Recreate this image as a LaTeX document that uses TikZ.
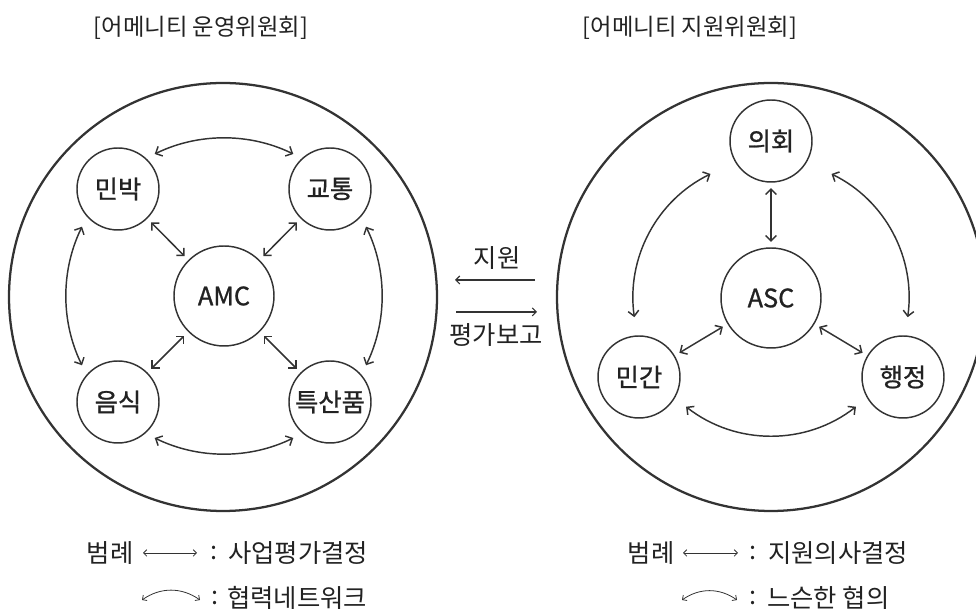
\documentclass[tikz,border=0pt]{standalone}
\usepackage{fontspec}
\setmainfont{Noto Sans CJK KR}
\newfontfamily\kmed[FakeBold=1]{Noto Sans CJK KR}
\usetikzlibrary{arrows.meta}
\definecolor{ink}{HTML}{333333}
\definecolor{txt}{HTML}{222222}
\tikzset{
  bigc/.style={draw=ink,line width=1.7pt},
  sm/.style={circle,draw=ink,line width=1.1pt,minimum size=61.5pt,inner sep=0pt,
     text=txt,font=\fontsize{19}{22}\kmed},
  hub/.style={sm,minimum size=75pt},
  twoway/.style={draw=ink,line width=1.1pt,
     {Straight Barb[length=4pt,width=8pt]}-{Straight Barb[length=4pt,width=8pt]}},
  link/.style={twoway,shorten <=4pt,shorten >=4pt},
  mid/.style={draw=ink,line width=0.8pt,-{Straight Barb[length=3pt,width=6pt]}},
  legarr/.style={draw=ink,line width=0.6pt,
     {Straight Barb[length=2.5pt,width=5pt]}-{Straight Barb[length=2.5pt,width=5pt]}},
  ttl/.style={inner sep=0pt,text=txt,font=\fontsize{17.5}{20}\selectfont},
  lg/.style={inner sep=0pt,text=txt,font=\fontsize{19}{22}\selectfont},
}
\begin{document}
\begin{tikzpicture}[x=0.75pt,y=0.75pt]
\useasboundingbox (0,0) rectangle (976,610);
\clip (0,0) rectangle (976,610);
% big circles
\draw[bigc] (223,313) circle[radius=214];
\draw[bigc] (771,313) circle[radius=214];
% titles
\node[ttl] (t1) at (201,582) {[어메니티 운영위원회]};
\node[ttl] (t2) at (690,582) {[어메니티 지원위원회]};
% left group
\node[hub] (amc) at (224,314) {AMC};
\node[sm] (minbak) at (118,421) {민박};
\node[sm] (gyotong) at (330,421) {교통};
\node[sm] (eumsik) at (118,208) {음식};
\node[sm] (teuk) at (330,208) {특산품};
\draw[link] (minbak) -- (amc);
\draw[link] (gyotong) -- (amc);
\draw[link] (eumsik) -- (amc);
\draw[link] (teuk) -- (amc);
\draw[twoway] ([shift={(116:158)}]amc.center) arc[start angle=116,end angle=64,radius=158];
\draw[twoway] ([shift={(26:158)}]amc.center) arc[start angle=26,end angle=-26,radius=158];
\draw[twoway] ([shift={(244:158)}]amc.center) arc[start angle=244,end angle=296,radius=158];
\draw[twoway] ([shift={(154:158)}]amc.center) arc[start angle=154,end angle=206,radius=158];
% right group
\node[hub] (asc) at (771,312) {ASC};
\node[sm] (uihoe) at (771,469) {의회};
\node[sm] (mingan) at (639,233) {민간};
\node[sm] (haeng) at (903,233) {행정};
\draw[link] (uihoe) -- (asc);
\draw[link] (mingan) -- (asc);
\draw[link] (haeng) -- (asc);
\draw[twoway] ([shift={(116:138)}]asc.center) arc[start angle=116,end angle=188,radius=138];
\draw[twoway] ([shift={(64:138)}]asc.center) arc[start angle=64,end angle=-8,radius=138];
\draw[twoway] ([shift={(232:138)}]asc.center) arc[start angle=232,end angle=308,radius=138];
% middle
\node[lg] (jw) at (497,352) {지원};
\node[lg] (pg) at (496,275) {평가보고};
\coordinate (a1) at (535,330);
\coordinate (a2) at (455,330);
\draw[mid] (a1) -- (a2);
\coordinate (b1) at (456,298);
\coordinate (b2) at (537,298);
\draw[mid] (b1) -- (b2);
% legend left
\node[lg] (lgl) at (110,57) {범례};
\coordinate (la1) at (143,57);
\coordinate (la2) at (197,57);
\draw[legarr] (la1) -- (la2);
\node[lg] (lcl1) at (214,57) {:};
\node[lg,anchor=west] (ltl1) at (228,57) {사업평가결정};
\coordinate (lc1) at (142,10);
\coordinate (lc2) at (200,10);
\draw[legarr] (lc1) to[bend left=35] (lc2);
\node[lg] (lcl2) at (215,12) {:};
\node[lg,anchor=west] (ltl2) at (227,12) {협력네트워크};
% legend right
\node[lg] (lgr) at (651,57) {범례};
\coordinate (ra1) at (683,57);
\coordinate (ra2) at (738,57);
\draw[legarr] (ra1) -- (ra2);
\node[lg] (rcl1) at (753,57) {:};
\node[lg,anchor=west] (rtl1) at (768,57) {지원의사결정};
\coordinate (rc1) at (682,10);
\coordinate (rc2) at (737,10);
\draw[legarr] (rc1) to[bend left=35] (rc2);
\node[lg] (rcl2) at (753,12) {:};
\node[lg,anchor=west] (rtl2) at (767,12) {느슨한 협의};
\end{tikzpicture}
\end{document}
